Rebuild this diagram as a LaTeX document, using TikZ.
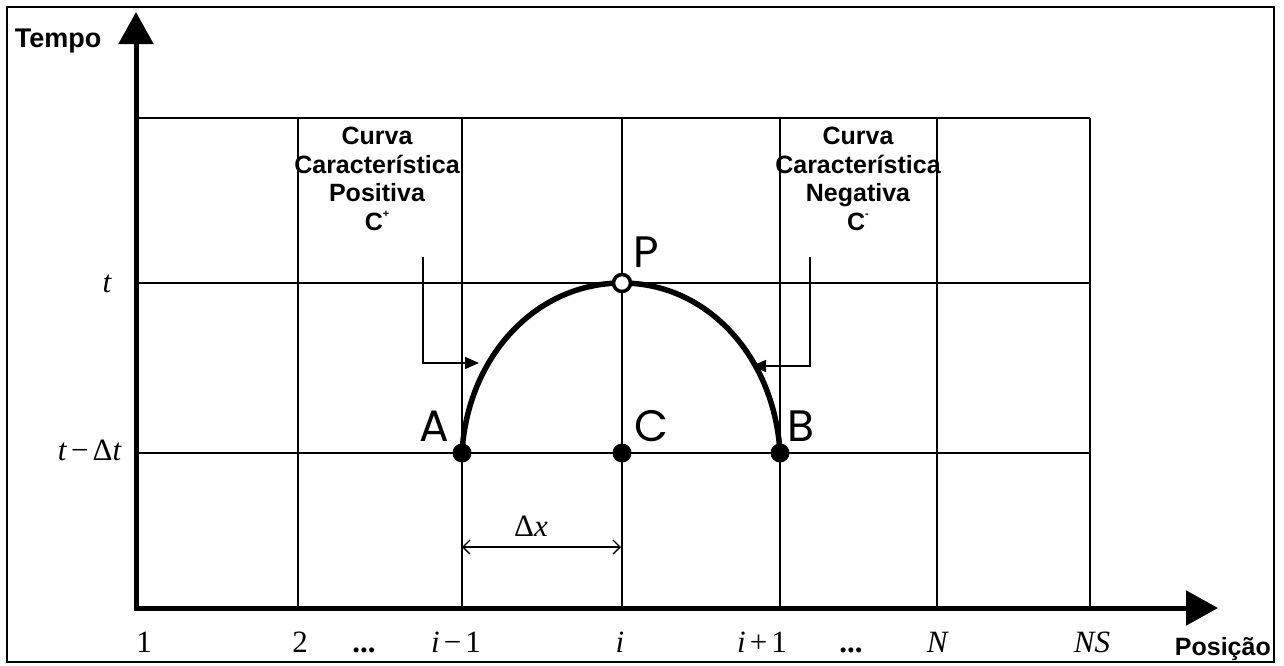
\documentclass[tikz,border=0pt]{standalone}
\usepackage{fontspec}
\setmainfont{Liberation Serif}
\newfontfamily\lsans{Liberation Sans}
\newfontfamily\geo{Poppins}
\usetikzlibrary{arrows.meta}
\newcommand{\opsp}{\hspace{4pt}}
\begin{document}
\begin{tikzpicture}[x=1pt,y=-1pt,
  gridline/.style={line width=1.4pt},
  axisline/.style={line width=5pt},
  lbl/.style={font=\lsans\bfseries\fontsize{25}{28.5}\selectfont, align=center, inner sep=0pt},
  sanslbl/.style={font=\lsans\bfseries\fontsize{27}{30}\selectfont, inner sep=0pt},
  num/.style={font=\fontsize{31}{34}\selectfont, anchor=base, inner sep=0pt},
  ptl/.style={font=\geo\fontsize{44}{48}\selectfont, inner sep=0pt},
  dot/.style={circle, fill=black, minimum size=19pt, inner sep=0pt},
  odot/.style={circle, draw=black, line width=3.5pt, fill=white, minimum size=17pt, inner sep=0pt},
  pointer/.style={line width=1.5pt, -{Triangle[length=14pt,width=12pt]}},
  dim/.style={line width=1.3pt, {Straight Barb[length=7pt,width=14pt]}-{Straight Barb[length=7pt,width=14pt]}},
]
\useasboundingbox (0,0) rectangle (1284,665);
\draw[line width=2pt] (7,7) rectangle (1274,662);

% grid
\foreach \x in {298,462,622,780,937,1090} \draw[gridline] (\x,118) -- (\x,608);
\foreach \y in {118,283,453} \draw[gridline] (136,\y) -- (1090,\y);

% axes
\coordinate (O) at (136,608);
\coordinate (Ytip) at (136,12);
\coordinate (Xtip) at (1218,608);
\draw[axisline, {Triangle[length=32pt,width=34pt]}-{Triangle[length=32pt,width=34pt]}] (Ytip) -- (O) -- (Xtip);

% characteristic curves
\coordinate (a) at (462,453);
\coordinate (c) at (622,453);
\coordinate (b) at (780,453);
\coordinate (p) at (622,283);
\draw[line width=5.5pt] (a) .. controls (467,359) and (534,283) .. (p)
                          .. controls (709,283) and (775,359) .. (b);
\node[dot] (A) at (a) {};
\node[dot] (C) at (c) {};
\node[dot] (B) at (b) {};
\node[odot] (P) at (p) {};

\node[ptl] (lA) at (434,426) {A};
\node[ptl] (lC) at (651,426) {C};
\node[ptl] (lB) at (801,426) {B};
\node[ptl] (lP) at (646,252) {P};

% labels of the characteristic curves
\node[lbl, anchor=north] (cpos) at (377,127) {Curva\\Característica\\Positiva\\C\raisebox{0.5em}{\fontsize{11}{11}\selectfont +}};
\node[lbl, anchor=north] (cneg) at (858,127) {Curva\\Característica\\Negativa\\C\raisebox{0.5em}{\fontsize{11}{11}\selectfont -}};

\coordinate (pl0) at (423,257);
\coordinate (pl1) at (479,363);
\draw[pointer] (pl0) |- (pl1);
\coordinate (pr0) at (810,257);
\coordinate (pr1) at (752,366);
\draw[pointer] (pr0) |- (pr1);

% delta x
\coordinate (dx0) at (462,547);
\coordinate (dx1) at (621,547);
\draw[dim] (dx0) -- (dx1);
\node[font=\fontsize{31}{34}\selectfont, inner sep=0pt] (dxl) at (531,526) {Δ\textit{x}};

% axis titles
\node[sanslbl] (tempo) at (58,41) {Tempo};
\node[sanslbl, font=\lsans\bfseries\fontsize{25}{28}\selectfont, anchor=base east] (posicao) at (1271,655) {Posição};

% time labels
\node[num, anchor=base east] (tl) at (112,292) {\textit{t}};
\node[num, anchor=base east] (tdl) at (122,460) {\textit{t}\opsp−\opsp Δ\textit{t}};

% position labels
\node[num] (n1) at (144,652) {1};
\node[num] (n2) at (300,652) {2};
\node[num] (d1) at (364,652) {\textbf{...}};
\node[num] (nim) at (456,652) {\textit{i}\opsp−\opsp 1};
\node[num] (ni) at (620,652) {\textit{i}};
\node[num] (nip) at (762,652) {\textit{i}\opsp+\opsp 1};
\node[num] (d2) at (851,652) {\textbf{...}};
\node[num] (nN) at (938,652) {\textit{N}};
\node[num] (nNS) at (1092,652) {\textit{NS}};
\end{tikzpicture}
\end{document}
